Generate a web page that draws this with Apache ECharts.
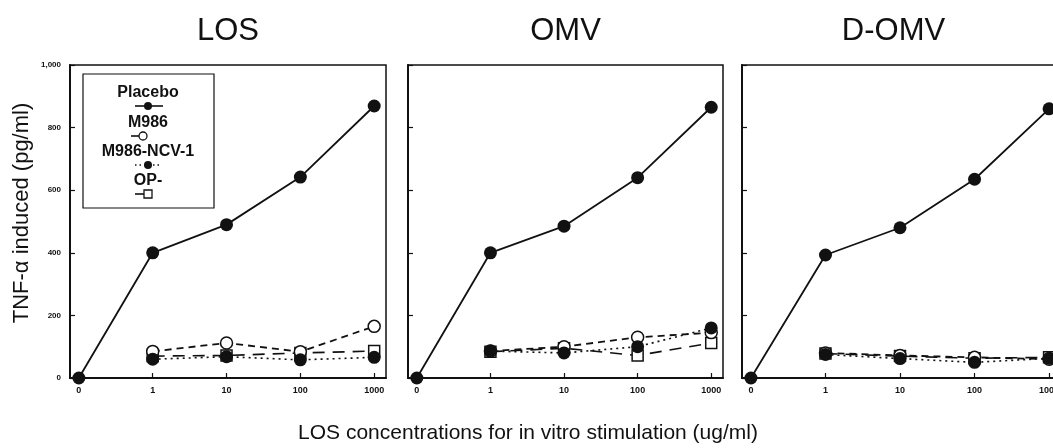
<!DOCTYPE html>
<html>
<head>
<meta charset="utf-8">
<script src="https://cdn.jsdelivr.net/npm/echarts@6/dist/echarts.min.js"></script>
<style>
  html, body { margin: 0; padding: 0; background: #fff; }
  #chart { width: 1053px; height: 448px; }
</style>
</head>
<body>
<div id="chart"></div>
<script>
// tick labels along the concentration axis (positions 0..4)
const concLabels = ["0", "1", "10", "100", "1000"];
const panelTitles = ["LOS", "OMV", "D-OMV"];

// TNF-alpha (pg/ml), one row per panel
const placebo = [
  [0, 400, 490, 642, 869],
  [0, 400, 485, 640, 865],
  [0, 393, 480, 635, 860],
];
// these groups start at concentration 1
const m986 = [
  [85, 112, 84, 165],
  [86, 100, 130, 145],
  [80, 72, 66, 60],
];
const ncv1 = [
  [60, 68, 58, 66],
  [86, 80, 100, 160],
  [75, 62, 50, 63],
];
const opMinus = [
  [70, 72, 80, 86],
  [84, 95, 72, 112],
  [78, 70, 63, 66],
];

const INK = "#111";
const panels = [
  { left: 70, width: 316 },
  { left: 408, width: 315 },
  { left: 742, width: 319 },
];

function fromOne(values) {
  return values.map((v, i) => [i + 1, v]);
}

const grids = panels.map((p) => ({
  left: p.left, width: p.width, top: 65, height: 313,
  outerBoundsMode: "none", containLabel: false,
  show: true, borderColor: INK, borderWidth: 1.5, backgroundColor: "transparent",
}));

const xAxes = panels.map((p, i) => ({
  type: "value", gridIndex: i, min: -0.12, max: 4.16,
  axisLine: { show: true, onZero: false, lineStyle: { color: INK, width: 2 } },
  axisTick: { show: true, inside: true, length: 5, customValues: [0, 1, 2, 3, 4], lineStyle: { color: INK, width: 1.2 } },
  axisLabel: {
    show: true, customValues: [0, 1, 2, 3, 4], margin: 8,
    formatter: (v) => concLabels[Math.round(v)] || "",
    color: INK, fontSize: 9, fontWeight: "bold", fontFamily: "Liberation Sans",
  },
  splitLine: { show: false },
}));

const yAxes = panels.map((p, i) => ({
  type: "value", gridIndex: i, min: 0, max: 1000, interval: 200,
  axisLine: { show: true, onZero: false, lineStyle: { color: INK, width: 2 } },
  axisTick: { show: true, inside: true, length: 5, lineStyle: { color: INK, width: 1.2 } },
  axisLabel: {
    show: i === 0, margin: 9,
    formatter: (v) => (v === 1000 ? "1,000" : String(v)),
    color: INK, fontSize: 8, fontWeight: "bold", fontFamily: "Liberation Sans",
  },
  splitLine: { show: false },
}));

const series = [];
panels.forEach((p, i) => {
  series.push({
    name: "OP-", type: "line", xAxisIndex: i, yAxisIndex: i, z: 2,
    data: fromOne(opMinus[i]), symbol: "rect", symbolSize: 11,
    lineStyle: { color: INK, width: 1.6, type: [12, 8] },
    itemStyle: { color: "#fff", borderColor: INK, borderWidth: 1.5 },
  });
  series.push({
    name: "M986", type: "line", xAxisIndex: i, yAxisIndex: i, z: 3,
    data: fromOne(m986[i]), symbol: "circle", symbolSize: 12,
    lineStyle: { color: INK, width: 1.8, type: [7, 5] },
    itemStyle: { color: "#fff", borderColor: INK, borderWidth: 1.5 },
  });
  series.push({
    name: "M986-NCV-1", type: "line", xAxisIndex: i, yAxisIndex: i, z: 4,
    data: fromOne(ncv1[i]), symbol: "circle", symbolSize: 13,
    lineStyle: { color: INK, width: 1.6, type: [2, 4] },
    itemStyle: { color: INK },
  });
  series.push({
    name: "Placebo", type: "line", xAxisIndex: i, yAxisIndex: i, z: 5,
    data: placebo[i].map((v, k) => [k, v]), symbol: "circle", symbolSize: 13,
    lineStyle: { color: INK, width: 1.8 },
    itemStyle: { color: INK },
  });
});

const txt = { fill: INK, fontFamily: "Liberation Sans" };

// titles and shared axis names
const labels = panelTitles.map((t, i) => ({
  type: "text", x: panels[i].left + panels[i].width / 2 - (i === 2 ? 8 : 0), y: 31,
  style: { ...txt, text: t, fontSize: 31, align: "center", verticalAlign: "middle" },
}));
labels.push({
  type: "text", x: 528, y: 433,
  style: { ...txt, text: "LOS concentrations for in vitro stimulation (ug/ml)", fontSize: 21, align: "center", verticalAlign: "middle" },
});
labels.push({
  type: "text", x: 22, y: 213, rotation: Math.PI / 2,
  style: { ...txt, text: "TNF-\u03b1 induced (pg/ml)", fontSize: 22, align: "center", verticalAlign: "middle" },
});

// key box drawn inside the first panel
const keyX = 148;
const keyRows = [
  { name: "Placebo", ty: 93, sy: 106, line: [135, 163], dash: null, mark: "dot" },
  { name: "M986", ty: 123, sy: 136, line: [131, 145], dash: null, mark: "open" },
  { name: "M986-NCV-1", ty: 152, sy: 165, line: [135, 161], dash: [1.5, 3], mark: "dot" },
  { name: "OP-", ty: 181, sy: 194, line: [135, 148], dash: null, mark: "square" },
];
const key = [{
  type: "rect", shape: { x: 83, y: 74, width: 131, height: 134 },
  style: { fill: "#fff", stroke: INK, lineWidth: 1.2 }, z: 10,
}];
keyRows.forEach((r) => {
  key.push({
    type: "text", x: keyX, y: r.ty, z: 11,
    style: { ...txt, text: r.name, fontSize: 16, fontWeight: "bold", align: "center", verticalAlign: "middle" },
  });
  key.push({
    type: "line", z: 11, shape: { x1: r.line[0], y1: r.sy, x2: r.line[1], y2: r.sy },
    style: { stroke: INK, lineWidth: 1.6, lineDash: r.dash },
  });
  const mx = r.mark === "open" ? 143 : keyX;
  if (r.mark === "square") {
    key.push({ type: "rect", z: 12, shape: { x: mx - 4, y: r.sy - 4, width: 8, height: 8 }, style: { fill: "#fff", stroke: INK, lineWidth: 1.3 } });
  } else {
    key.push({
      type: "circle", z: 12, shape: { cx: mx, cy: r.sy, r: 4 },
      style: r.mark === "open" ? { fill: "#fff", stroke: INK, lineWidth: 1.3 } : { fill: INK },
    });
  }
});

const chart = echarts.init(document.getElementById("chart"), null, { renderer: "canvas" });
chart.setOption({
  backgroundColor: "#fff",
  animation: false,
  grid: grids,
  xAxis: xAxes,
  yAxis: yAxes,
  series,
  graphic: labels.concat(key),
});
</script>
</body>
</html>
